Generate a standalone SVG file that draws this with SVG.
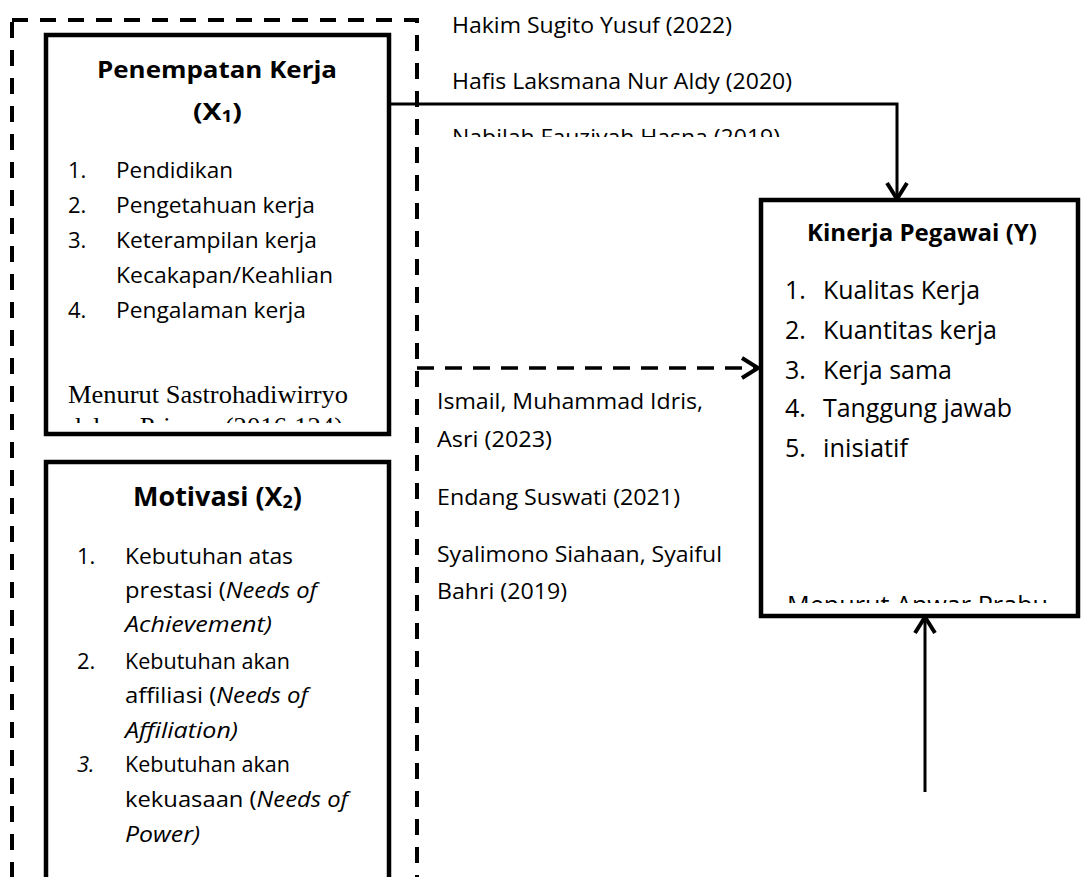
<svg xmlns="http://www.w3.org/2000/svg" width="1081" height="877" viewBox="0 0 1081 877">
  <style>
    .t { font-family: "Open Sans", "Liberation Sans", sans-serif; fill: #000; }
    .b { font-weight: bold; }
    .i { font-style: italic; }
    .serif { font-family: "Liberation Serif", serif; fill: #000; }
    .box { fill: #fff; stroke: #000; stroke-width: 4.5; }
    .frame { fill: none; stroke: #000; stroke-width: 4; stroke-dasharray: 16 12; }
    .conn { fill: none; stroke: #000; stroke-width: 3; }
    .dash { stroke-dasharray: 17 11; stroke-width: 3.5; }
  </style>
  <defs>
    <marker id="open" viewBox="0 0 22 26" refX="19" refY="13" markerWidth="22" markerHeight="26" markerUnits="userSpaceOnUse" orient="auto">
      <path d="M3,3 L19,13 L3,23" fill="none" stroke="#000" stroke-width="4"/>
    </marker>
    <clipPath id="clipNabilah"><rect x="440" y="100" width="400" height="37"/></clipPath>
    <clipPath id="clipPriansa"><rect x="50" y="405" width="335" height="18"/></clipPath>
    <clipPath id="clipAnwar"><rect x="765" y="580" width="310" height="23"/></clipPath>
  </defs>
  <rect width="1081" height="877" fill="#fff"/>

  <g id="frame-x">
    <rect class="frame" x="12" y="20" width="405" height="920"/>
  </g>

  <g id="connectors">
    <path class="conn" d="M390,104 H897 V199" marker-end="url(#open)"/>
    <path class="conn dash" d="M417,368 H758" marker-end="url(#open)"/>
    <path class="conn" d="M925,792 V617" marker-end="url(#open)"/>
  </g>

  <g id="node-penempatan-kerja">
    <rect class="box" x="46" y="35" width="343" height="399"/>
    <text class="t b" font-size="24" x="97" y="78" textLength="240" lengthAdjust="spacingAndGlyphs">Penempatan Kerja</text>
    <text class="t b" font-size="24" x="193" y="120" textLength="49" lengthAdjust="spacingAndGlyphs">(X<tspan font-size="16" dy="2">1</tspan><tspan dy="-2">)</tspan></text>
    <g class="t" font-size="22">
      <text x="68" y="178">1.</text>
      <text x="116" y="178" textLength="117" lengthAdjust="spacingAndGlyphs">Pendidikan</text>
      <text x="68" y="213">2.</text>
      <text x="116" y="213" textLength="199" lengthAdjust="spacingAndGlyphs">Pengetahuan kerja</text>
      <text x="68" y="248">3.</text>
      <text x="116" y="248" textLength="201" lengthAdjust="spacingAndGlyphs">Keterampilan kerja</text>
      <text x="116" y="283" textLength="217" lengthAdjust="spacingAndGlyphs">Kecakapan/Keahlian</text>
      <text x="68" y="318">4.</text>
      <text x="116" y="318" textLength="190" lengthAdjust="spacingAndGlyphs">Pengalaman kerja</text>
    </g>
    <text class="serif" font-size="25" x="68" y="403" textLength="280" lengthAdjust="spacingAndGlyphs">Menurut Sastrohadiwirryo</text>
    <g clip-path="url(#clipPriansa)">
      <text class="serif" font-size="25" x="68" y="435" textLength="275" lengthAdjust="spacingAndGlyphs">dalam Priansa (2016:124)</text>
    </g>
  </g>

  <g id="node-motivasi">
    <rect class="box" x="46" y="462" width="343" height="470"/>
    <text class="t b" font-size="27" x="133" y="506" textLength="169" lengthAdjust="spacingAndGlyphs">Motivasi (X<tspan font-size="18" dy="2">2</tspan><tspan dy="-2">)</tspan></text>
    <g class="t" font-size="22">
      <text x="77" y="564">1.</text>
      <text x="125" y="564" textLength="168" lengthAdjust="spacingAndGlyphs">Kebutuhan atas</text>
      <text x="125" y="598" textLength="192" lengthAdjust="spacingAndGlyphs">prestasi (<tspan class="i">Needs of</tspan></text>
      <text class="i" x="125" y="632" textLength="147" lengthAdjust="spacingAndGlyphs">Achievement)</text>
      <text x="77" y="669">2.</text>
      <text x="125" y="669" textLength="165" lengthAdjust="spacingAndGlyphs">Kebutuhan akan</text>
      <text x="125" y="703" textLength="183" lengthAdjust="spacingAndGlyphs">affiliasi (<tspan class="i">Needs of</tspan></text>
      <text class="i" x="125" y="738" textLength="113" lengthAdjust="spacingAndGlyphs">Affiliation)</text>
      <text class="i" x="77" y="772">3.</text>
      <text x="125" y="772" textLength="165" lengthAdjust="spacingAndGlyphs">Kebutuhan akan</text>
      <text x="125" y="807" textLength="223" lengthAdjust="spacingAndGlyphs">kekuasaan (<tspan class="i">Needs of</tspan></text>
      <text class="i" x="125" y="842" textLength="75" lengthAdjust="spacingAndGlyphs">Power)</text>
    </g>
  </g>

  <g id="refs-x1" class="t" font-size="22">
    <text x="452" y="33" textLength="280" lengthAdjust="spacingAndGlyphs">Hakim Sugito Yusuf (2022)</text>
    <text x="452" y="89" textLength="340" lengthAdjust="spacingAndGlyphs">Hafis Laksmana Nur Aldy (2020)</text>
    <g clip-path="url(#clipNabilah)">
      <text x="452" y="145" textLength="328" lengthAdjust="spacingAndGlyphs">Nabilah Fauziyah Hasna (2019)</text>
    </g>
  </g>

  <g id="refs-x2" class="t" font-size="22">
    <text x="437" y="409" textLength="266" lengthAdjust="spacingAndGlyphs">Ismail, Muhammad Idris,</text>
    <text x="437" y="447" textLength="115" lengthAdjust="spacingAndGlyphs">Asri (2023)</text>
    <text x="437" y="505" textLength="243" lengthAdjust="spacingAndGlyphs">Endang Suswati (2021)</text>
    <text x="437" y="562" textLength="285" lengthAdjust="spacingAndGlyphs">Syalimono Siahaan, Syaiful</text>
    <text x="437" y="599" textLength="130" lengthAdjust="spacingAndGlyphs">Bahri (2019)</text>
  </g>

  <g id="node-kinerja-pegawai">
    <rect class="box" x="761" y="200" width="317" height="416"/>
    <text class="t b" font-size="24" x="807" y="241" textLength="230" lengthAdjust="spacingAndGlyphs">Kinerja Pegawai (Y)</text>
    <g class="t" font-size="25">
      <text x="785" y="299">1.</text>
      <text x="823" y="299" textLength="157" lengthAdjust="spacingAndGlyphs">Kualitas Kerja</text>
      <text x="785" y="339">2.</text>
      <text x="823" y="339" textLength="174" lengthAdjust="spacingAndGlyphs">Kuantitas kerja</text>
      <text x="785" y="379">3.</text>
      <text x="823" y="379" textLength="129" lengthAdjust="spacingAndGlyphs">Kerja sama</text>
      <text x="785" y="417">4.</text>
      <text x="823" y="417" textLength="189" lengthAdjust="spacingAndGlyphs">Tanggung jawab</text>
      <text x="785" y="457">5.</text>
      <text x="823" y="457" textLength="85" lengthAdjust="spacingAndGlyphs">inisiatif</text>
    </g>
    <g clip-path="url(#clipAnwar)">
      <text class="t" font-size="25" x="787" y="614" textLength="261" lengthAdjust="spacingAndGlyphs">Menurut Anwar Prabu</text>
    </g>
  </g>
</svg>
